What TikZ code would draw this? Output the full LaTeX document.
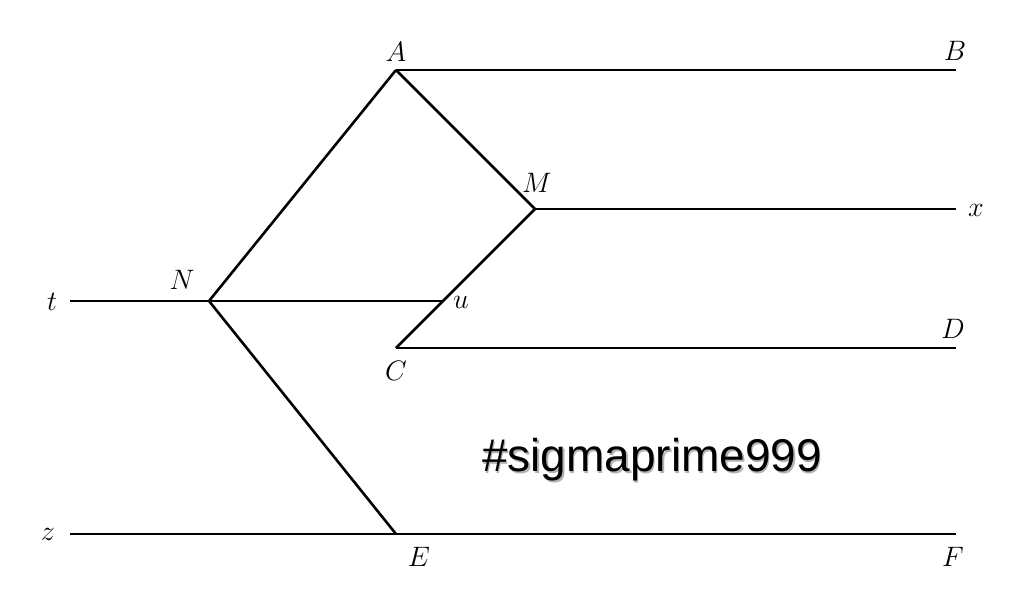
\documentclass[tikz,border=0pt]{standalone}
\usepackage{fontspec}
\newfontfamily\tagfont{Liberation Sans}
\begin{document}
\begin{tikzpicture}[x=0.015cm,y=-0.015cm,line width=1.1pt,font=\large]
      \useasboundingbox (0,0) rectangle (1024,602);
      \draw
        (396,70) coordinate (A)
        (956,70) coordinate (B)
        (535,209) coordinate (M)
        (956,209) coordinate (x)
        (209,301) coordinate (N)
        (70,301) coordinate (t)
        (443,301) coordinate (u)
        (396,348) coordinate (C)
        (956,348) coordinate (D)
        (396,534) coordinate (E)
        (70,534) coordinate (z)
        (956,534) coordinate (F);
      \draw
        (396,52) node (lA){$A$}
        (955,51) node (lB){$B$}
        (537,183) node (lM){$M$}
        (976,210) node (lx){$x$}
        (182,280) node (lN){$N$}
        (52,302) node (lt){$t$}
        (461,302) node (lu){$u$}
        (396,371) node (lC){$C$}
        (953,329) node (lD){$D$}
        (419,557) node (lE){$E$}
        (48,534) node (lz){$z$}
        (953,557) node (lF){$F$};
      \begin{scope}[-]
        \draw (A) to (B);
        \draw (M) to (x);
        \draw (C) to (D);
        \draw (z) to (F);
        \draw (t) to (N);
        \draw (N) to (u);
        \draw (N) to (A);
        \draw (N) to (E);
        \draw (A) to (M);
        \draw (M) to (C);
      \end{scope}
      \node[text=black!30] at (653.5,461.5) {\tagfont\fontsize{19.6}{24}\selectfont\#sigmaprime999};
      \node (tag) at (652,460) {\tagfont\fontsize{19.6}{24}\selectfont\#sigmaprime999};
    \end{tikzpicture}
\end{document}
